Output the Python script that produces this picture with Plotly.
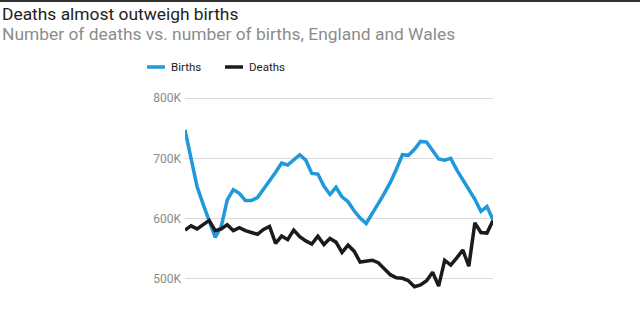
import plotly.graph_objects as go

years = list(range(1972, 2024))

births_k = [747, 699, 653, 624, 597, 569, 587, 631, 648, 642, 630, 630, 635,
            650, 663, 677, 692, 689, 697, 706, 697, 675, 674, 654, 640, 652,
            636, 628, 613, 601, 592, 610, 625, 642, 660, 682, 706, 705, 715,
            728, 727, 713, 699, 697, 700, 681, 665, 648, 632, 612, 620, 598]

deaths_k = [581, 588, 583, 590, 597, 580, 583, 590, 580, 585, 580, 577, 574,
            582, 587, 559, 571, 565, 581, 570, 563, 558, 571, 557, 567, 561,
            544, 556, 546, 528, 530, 531, 527, 516, 507, 502, 501, 497, 487,
            490, 497, 511, 488, 531, 523, 535, 548, 521, 593, 577, 576, 597]

tick_vals = [500, 600, 700, 800]
tick_text = ["500K", "600K", "700K", "800K"]

series_names = ["Births", "Deaths"]
BLUE = "#1f98dc"
BLACK = "#1b1b1b"
colors = [BLUE, BLACK]

fig = go.Figure()
fig.add_trace(go.Scatter(x=years, y=births_k, mode="lines", name="Births",
                         line=dict(color=BLUE, width=3.5), showlegend=False))
fig.add_trace(go.Scatter(x=years, y=deaths_k, mode="lines", name="Deaths",
                         line=dict(color=BLACK, width=3.5), showlegend=False))

L, R, T, B = 185, 147, 86, 29
W, H = 640, 326
pw = W - L - R
ph = H - T - B

def px(xp):
    return (xp - L) / pw

def py(yp):
    return (H - B - yp) / ph

# manual legend (short swatches as in reference)
legend_swatch_x = [(147, 165), (225, 243)]
legend_text_x = [170, 248]
legend_y = 67

shapes = [dict(type="line", xref="paper", yref="paper", x0=px(0), x1=px(640),
               y0=py(1), y1=py(1), line=dict(color="#333", width=2))]
annotations = [
    dict(text="Deaths almost outweigh births", xref="paper", yref="paper",
         x=px(1), y=py(13.8), xanchor="left", yanchor="middle", borderpad=0,
         showarrow=False, font=dict(size=17.4, color="#222", family="Roboto")),
    dict(text="Number of deaths vs. number of births, England and Wales",
         xref="paper", yref="paper", x=px(1), y=py(34.5), xanchor="left",
         yanchor="middle", showarrow=False, borderpad=0,
         font=dict(size=17.4, color="#8c8c8c", family="Roboto")),
]
for name, col, (x0, x1), tx in zip(series_names, colors, legend_swatch_x, legend_text_x):
    shapes.append(dict(type="line", xref="paper", yref="paper",
                       x0=px(x0), x1=px(x1), y0=py(legend_y), y1=py(legend_y),
                       line=dict(color=col, width=3.5)))
    annotations.append(dict(text=name, xref="paper", yref="paper", x=px(tx),
                            y=py(legend_y), xanchor="left", yanchor="middle",
                            showarrow=False, borderpad=0,
                            font=dict(size=11.5, color="#222", family="Roboto")))

fig.update_layout(
    width=W, height=H,
    margin=dict(l=L, r=R, t=T, b=B, pad=0),
    paper_bgcolor="white", plot_bgcolor="white",
    font=dict(family="Roboto, sans-serif"),
    showlegend=False,
    xaxis=dict(range=[1972, 2023], showgrid=False, zeroline=False,
               showticklabels=False, showline=False, ticks=""),
    yaxis=dict(range=[470, 820], tickvals=tick_vals, ticktext=tick_text,
               showgrid=True, gridcolor="#d9d9d9", gridwidth=1,
               zeroline=False, showline=False, ticks="",
               tickfont=dict(size=12, color="#8a8a8a", family="Roboto"),
               ticklabelstandoff=3),
    annotations=annotations,
    shapes=shapes,
)

fig.write_html("out.html")
